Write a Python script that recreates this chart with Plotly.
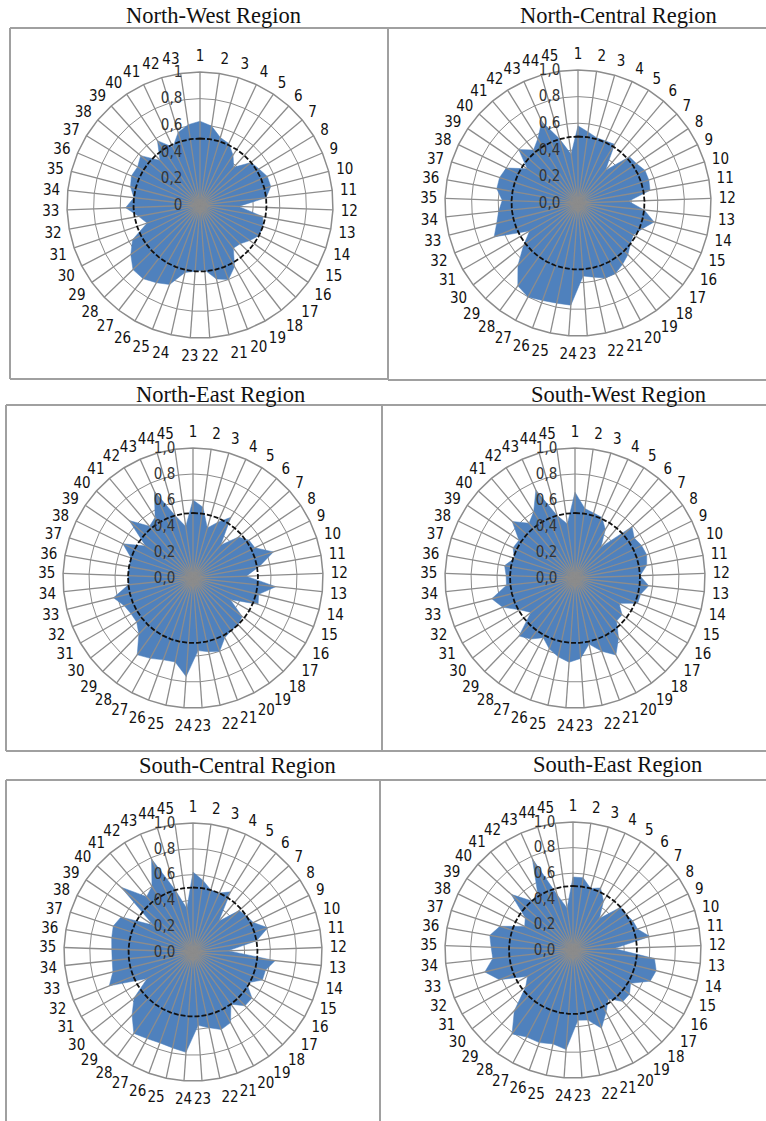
import plotly.graph_objects as go

W, H = 766, 1121

# ---- data -------------------------------------------------------------
region_titles = [
    "North-West Region", "North-Central Region",
    "North-East Region", "South-West Region",
    "South-Central Region", "South-East Region",
]

north_west = [0.63, 0.60, 0.53, 0.51, 0.45, 0.38, 0.50, 0.52, 0.55, 0.55,
              0.50, 0.29, 0.48, 0.50, 0.50, 0.46, 0.42, 0.41, 0.53, 0.60,
              0.57, 0.49, 0.50, 0.52, 0.64, 0.67, 0.70, 0.70, 0.64, 0.57,
              0.42, 0.47, 0.56, 0.50, 0.54, 0.56, 0.55, 0.58, 0.45, 0.58,
              0.48, 0.57, 0.61]

north_central = [0.58, 0.54, 0.51, 0.51, 0.52, 0.32, 0.52, 0.53, 0.56, 0.56,
                 0.55, 0.38, 0.50, 0.59, 0.52, 0.48, 0.50, 0.54, 0.57, 0.60,
                 0.60, 0.57, 0.55, 0.77, 0.77, 0.78, 0.80, 0.77, 0.65, 0.52,
                 0.42, 0.68, 0.63, 0.60, 0.57, 0.62, 0.62, 0.60, 0.46, 0.60,
                 0.52, 0.57, 0.67, 0.50, 0.37]

north_east = [0.60, 0.55, 0.40, 0.47, 0.55, 0.33, 0.47, 0.52, 0.53, 0.65,
              0.52, 0.41, 0.64, 0.52, 0.54, 0.33, 0.48, 0.50, 0.50, 0.52,
              0.60, 0.58, 0.56, 0.76, 0.66, 0.67, 0.70, 0.73, 0.60, 0.55,
              0.55, 0.57, 0.63, 0.50, 0.50, 0.50, 0.50, 0.60, 0.44, 0.66,
              0.52, 0.55, 0.73, 0.50, 0.40]

south_west = [0.66, 0.54, 0.52, 0.51, 0.44, 0.31, 0.59, 0.55, 0.57, 0.58,
              0.56, 0.50, 0.57, 0.52, 0.52, 0.39, 0.46, 0.46, 0.57, 0.67,
              0.60, 0.52, 0.62, 0.65, 0.62, 0.58, 0.52, 0.58, 0.62, 0.43,
              0.49, 0.60, 0.66, 0.53, 0.53, 0.55, 0.49, 0.53, 0.52, 0.65,
              0.55, 0.60, 0.74, 0.50, 0.42]

south_central = [0.62, 0.56, 0.50, 0.50, 0.55, 0.31, 0.48, 0.50, 0.52, 0.61,
                 0.50, 0.27, 0.64, 0.58, 0.58, 0.48, 0.58, 0.58, 0.50, 0.62,
                 0.64, 0.60, 0.57, 0.78, 0.76, 0.75, 0.76, 0.78, 0.68, 0.58,
                 0.41, 0.70, 0.64, 0.63, 0.63, 0.64, 0.65, 0.62, 0.37, 0.75,
                 0.56, 0.60, 0.79, 0.50, 0.34]

south_east = [0.57, 0.57, 0.50, 0.53, 0.45, 0.32, 0.50, 0.50, 0.52, 0.53,
              0.61, 0.32, 0.64, 0.67, 0.65, 0.52, 0.56, 0.56, 0.47, 0.55,
              0.65, 0.56, 0.55, 0.78, 0.75, 0.77, 0.77, 0.81, 0.66, 0.47,
              0.41, 0.62, 0.71, 0.63, 0.64, 0.66, 0.60, 0.42, 0.45, 0.65,
              0.50, 0.52, 0.78, 0.45, 0.33]

reference_level = 0.5

radial_ticks = [0, 0.2, 0.4, 0.6, 0.8, 1.0]
radial_labels_short = ["0", "0,2", "0,4", "0,6", "0,8", "1"]
radial_labels_long = ["0,0", "0,2", "0,4", "0,6", "0,8", "1,0"]

series = [north_west, north_central, north_east, south_west, south_central, south_east]
tick_sets = [radial_labels_short] + [radial_labels_long] * 5

# ---- layout geometry (pixels) -------------------------------------------
# centre x, centre y, radius of each radar
radar_geom = [(200, 205, 133), (578, 203, 133),
              (193, 578, 130), (575, 578, 130),
              (193, 952, 129), (573, 950, 128)]
title_pos = [(213, 15), (618, 15), (220, 394), (618, 394), (237, 765), (617, 764)]

BLUE = "#4F81BD"
GRID = "#8c8c8c"
FRAME = "#a0a0a0"
NARROW = "Liberation Sans Narrow, Arial Narrow, DejaVu Sans Condensed, sans-serif"


def px(x):
    return x / W


def py(y):
    return 1 - y / H


fig = go.Figure()
layout_polars = {}

for i, (vals, ticks) in enumerate(zip(series, tick_sets)):
    pid = "polar" if i == 0 else f"polar{i + 1}"
    n = len(vals)
    cats = [str(k) for k in range(1, n + 1)]

    # filled area
    fig.add_trace(go.Scatterpolar(
        r=vals + [vals[0]], theta=cats + [cats[0]],
        mode="lines", fill="toself", fillcolor=BLUE,
        line=dict(color=BLUE, width=0.5),
        subplot=pid, hoverinfo="skip", showlegend=False))

    # category spokes drawn over the fill
    sr, st = [], []
    for c in cats:
        sr += [0, radial_ticks[-1], None]
        st += [c, c, c]
    fig.add_trace(go.Scatterpolar(
        r=sr, theta=st, mode="lines",
        line=dict(color=GRID, width=1.3),
        subplot=pid, hoverinfo="skip", showlegend=False))

    # reference level
    fig.add_trace(go.Scatterpolar(
        r=[reference_level] * (n + 1), theta=cats + [cats[0]],
        mode="lines", line=dict(color="#111111", width=1.8, dash="5px,2px"),
        subplot=pid, hoverinfo="skip", showlegend=False))

    cx, cy, R = radar_geom[i]
    layout_polars[pid] = dict(
        domain=dict(x=[px(cx - R), px(cx + R)], y=[py(cy + R), py(cy - R)]),
        bgcolor="white",
        gridshape="linear",
        angularaxis=dict(
            type="category", categoryarray=cats,
            rotation=90, direction="clockwise",
            showgrid=False, showline=True, linecolor=GRID, linewidth=1.5,
            ticks="outside", ticklen=4, tickcolor="rgba(0,0,0,0)",
            tickfont=dict(family=NARROW, size=15, color="#111111"),
        ),
        radialaxis=dict(
            range=[0, 1], tickmode="array", tickvals=radial_ticks, ticktext=ticks,
            angle=90, side="counterclockwise", tickangle=90,
            showgrid=True, gridcolor=GRID, gridwidth=1.2, showline=False,
            ticks="outside", ticklen=12, tickcolor="rgba(0,0,0,0)",
            tickfont=dict(family=NARROW, size=15, color="#333333"),
        ),
    )

# panel titles
annotations = []
for t, (x, y) in zip(region_titles, title_pos):
    annotations.append(dict(
        text=t, x=px(x), y=py(y), xref="paper", yref="paper",
        xanchor="center", yanchor="middle", showarrow=False,
        font=dict(family="Liberation Serif, Times New Roman", size=22.5, color="#111111")))

# panel frames
segments = [
    # row 1
    (10, 28, 388, 28), (10, 28, 10, 379), (10, 379, 388, 379),
    (388, 28, 388, 380), (388, 28, 766, 28), (388, 380, 766, 380),
    # row 2
    (6, 405, 766, 405), (6, 405, 6, 751), (382, 405, 382, 751), (6, 751, 766, 751),
    # row 3
    (6, 780, 766, 780), (6, 780, 6, 1121), (380, 780, 380, 1121),
]
shapes = [dict(type="line", xref="paper", yref="paper",
               x0=px(a), y0=py(b), x1=px(c), y1=py(d),
               line=dict(color=FRAME, width=2)) for a, b, c, d in segments]

fig.update_layout(
    width=W, height=H, autosize=False,
    margin=dict(l=0, r=0, t=0, b=0),
    paper_bgcolor="white", plot_bgcolor="white",
    showlegend=False,
    annotations=annotations, shapes=shapes,
    **layout_polars,
)

fig.write_html("out.html")
